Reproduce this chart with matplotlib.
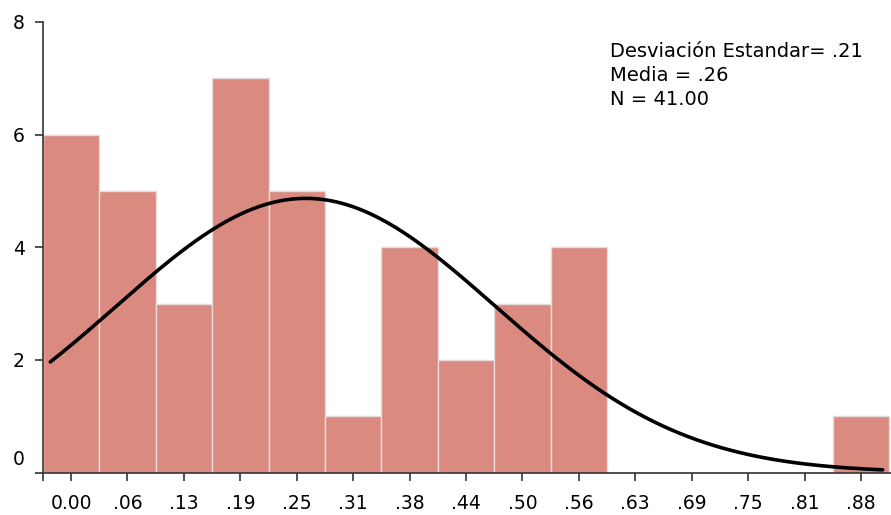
import numpy as np
import matplotlib.pyplot as plt
from matplotlib.transforms import ScaledTranslation

# histogram counts per bin (bin width .0625, centred on the labelled values)
bin_labels = ["0.00", ".06", ".13", ".19", ".25", ".31", ".38", ".44",
              ".50", ".56", ".63", ".69", ".75", ".81", ".88"]
bin_width = 0.0625
counts = [6, 5, 3, 7, 5, 1, 4, 2, 3, 4, 0, 0, 0, 0, 1]

# summary statistics used for the normal curve
std_dev = 0.21
mean = 0.26
n_obs = 41
curve_start = -0.023
curve_end = 0.899

centers = np.arange(len(counts)) * bin_width

fig = plt.figure(figsize=(8.91, 5.15), dpi=100)
ax = fig.add_axes([0.0481, 0.0825, 0.9519, 0.8748])

ax.bar(centers, counts, width=bin_width, color="#db8a80",
       edgecolor="#e4dcdc", linewidth=1.0, zorder=2)

xs = np.linspace(curve_start, curve_end, 300)
pdf = np.exp(-0.5 * ((xs - mean) / std_dev) ** 2) / (std_dev * np.sqrt(2 * np.pi))
ax.plot(xs, pdf * n_obs * bin_width, color="black", linewidth=2.6,
        solid_capstyle="round", zorder=3)

ax.set_xlim(centers[0] - bin_width / 2, centers[-1] + bin_width / 2 + 0.002)
ax.set_ylim(0, 8)

for side in ("top", "right"):
    ax.spines[side].set_visible(False)
for side in ("left", "bottom"):
    ax.spines[side].set_color("#333333")
    ax.spines[side].set_linewidth(1.2)

ax.set_xticks(np.concatenate([[centers[0] - bin_width / 2], centers]))
ax.set_xticklabels([""] + bin_labels)
ax.set_yticks([0, 2, 4, 6, 8])
ax.tick_params(axis="both", direction="out", length=6, width=1.2,
               color="#333333", labelsize=13.5, labelcolor="black")
ax.tick_params(axis="x", pad=9.5)
ax.tick_params(axis="y", pad=7)

# lift the zero label above the corner
zero_lbl = ax.get_yticklabels()[0]
zero_lbl.set_transform(zero_lbl.get_transform() +
                       ScaledTranslation(0, 15.5 / 100, fig.dpi_scale_trans))

stats_text = (f"Desviación Estandar= .{int(round(std_dev * 100))}\n"
              f"Media = .{int(round(mean * 100))}\n"
              f"N = {n_obs:.2f}")
fig.text(610 / 891, 1 - 42 / 515, stats_text, ha="left", va="top",
         fontsize=14, linespacing=1.32)

fig.savefig("out.png", dpi=100)
